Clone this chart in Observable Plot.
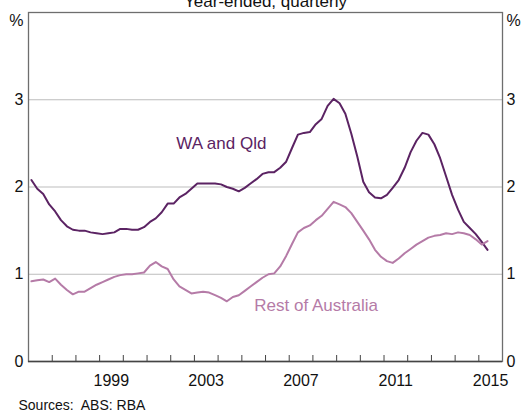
<!DOCTYPE html>
<html>
<head>
<meta charset="utf-8">
<script src="https://cdn.jsdelivr.net/npm/d3@7"></script>
<script src="https://cdn.jsdelivr.net/npm/@observablehq/plot@0.6"></script>
<style>
  html, body { margin: 0; padding: 0; background: #fff; }
  #chart { width: 521px; height: 413px; overflow: hidden; }
  svg { font-family: "Liberation Sans", Arial, sans-serif; }
</style>
</head>
<body>
<div id="chart"></div>
<script>
// Quarterly, year-ended, 1996 Q1 to 2015 Q2
const startYear = 1996;
const waQld = [
  2.08, 1.98, 1.92, 1.80, 1.72, 1.62, 1.55, 1.51, 1.50, 1.50,
  1.48, 1.47, 1.46, 1.47, 1.48, 1.52, 1.52, 1.51, 1.51, 1.54,
  1.60, 1.64, 1.71, 1.81, 1.81, 1.88, 1.92, 1.98, 2.04, 2.04,
  2.04, 2.04, 2.03, 2.00, 1.98, 1.95, 1.99, 2.04, 2.09, 2.15,
  2.17, 2.17, 2.22, 2.29, 2.45, 2.60, 2.62, 2.63, 2.72, 2.78,
  2.93, 3.01, 2.96, 2.84, 2.61, 2.35, 2.06, 1.94, 1.88, 1.87,
  1.91, 1.99, 2.08, 2.22, 2.40, 2.53, 2.62, 2.60, 2.49, 2.33,
  2.12, 1.91, 1.74, 1.60, 1.53, 1.46, 1.37, 1.28
];
const restOfAustralia = [
  0.92, 0.93, 0.94, 0.91, 0.95, 0.88, 0.82, 0.77, 0.80, 0.80,
  0.84, 0.88, 0.91, 0.94, 0.97, 0.99, 1.00, 1.00, 1.01, 1.02,
  1.10, 1.14, 1.09, 1.06, 0.94, 0.86, 0.82, 0.78, 0.79, 0.80,
  0.79, 0.76, 0.73, 0.69, 0.74, 0.76, 0.81, 0.86, 0.91, 0.96,
  1.00, 1.01, 1.09, 1.21, 1.35, 1.48, 1.53, 1.56, 1.62, 1.67,
  1.75, 1.83, 1.80, 1.77, 1.70, 1.60, 1.50, 1.40, 1.28, 1.20,
  1.15, 1.13, 1.18, 1.24, 1.29, 1.34, 1.38, 1.42, 1.44, 1.45,
  1.47, 1.46, 1.48, 1.47, 1.45, 1.40, 1.34, 1.38
];
const yTicks = [0, 1, 2, 3];
const yearTickMarks = d3.range(1997, 2016);
const yearLabels = [1999, 2003, 2007, 2011, 2015];
const seriesNames = ["WA and Qld", "Rest of Australia"];
const colors = ["#5b2363", "#b57ba7"];
const title = "Year-ended, quarterly";
const source = "Sources:  ABS: RBA";

// quarter index -> mid-quarter date
const qDate = i => new Date(Date.UTC(startYear + Math.floor(i / 4), (i % 4) * 3 + 1, 15));
const rows = [
  ...waQld.map((v, i) => ({date: qDate(i), value: v, series: seriesNames[0]})),
  ...restOfAustralia.map((v, i) => ({date: qDate(i), value: v, series: seriesNames[1]}))
];

const W = 521, H = 413;
const mL = 28, mR = 19, mT = 12, mB = 52;
const frameH = H - mT - mB;

const chart = Plot.plot({
  width: W,
  height: H,
  marginLeft: mL,
  marginRight: mR,
  marginTop: mT,
  marginBottom: mB,
  style: {fontFamily: "'Liberation Sans', Arial, sans-serif", fontSize: "16px", overflow: "visible"},
  x: {type: "utc", domain: [new Date(Date.UTC(1996, 0, 1)), new Date(Date.UTC(2016, 0, 1))], axis: null},
  y: {domain: [0, 4], axis: null},
  marks: [
    Plot.ruleY(yTicks.slice(1), {stroke: "#bdbdbd", strokeWidth: 1}),
    Plot.frame({stroke: "#6e6e6e", strokeWidth: 1.3}),
    Plot.ruleY([0], {stroke: "#444", strokeWidth: 1.3}),
    Plot.tickX(yearTickMarks, {x: d => new Date(Date.UTC(d, 0, 1)), insetTop: frameH - 6, stroke: "#444", strokeWidth: 1}),
    Plot.lineY(rows, {x: "date", y: "value", z: "series", stroke: "series", strokeWidth: 2}),
    // y tick labels left and right
    Plot.text(yTicks, {y: d => d, text: d => String(d), frameAnchor: "left", dx: -5, textAnchor: "end", fontSize: 16, fill: "#111"}),
    Plot.text(yTicks, {y: d => d, text: d => String(d), frameAnchor: "right", dx: 4, textAnchor: "start", fontSize: 16, fill: "#111"}),
    Plot.text(["%"], {frameAnchor: "top-left", dx: -5, dy: 8, textAnchor: "end", lineAnchor: "middle", fontSize: 16, fill: "#111"}),
    Plot.text(["%"], {frameAnchor: "top-right", dx: 4, dy: 8, textAnchor: "start", lineAnchor: "middle", fontSize: 16, fill: "#111"}),
    // year labels centred in each year
    Plot.text(yearLabels, {x: d => new Date(Date.UTC(d, 6, 1)), text: d => String(d), frameAnchor: "bottom", dy: 19, lineAnchor: "middle", fontSize: 16, fill: "#111"}),
    // series labels
    Plot.text([seriesNames[0]], {x: [new Date(Date.UTC(2004, 1, 20))], y: [2.43], text: d => d, textAnchor: "middle", fill: colors[0], fontSize: 17, dy: -6}),
    Plot.text([seriesNames[1]], {x: [new Date(Date.UTC(2008, 1, 20))], y: [0.575], text: d => d, textAnchor: "middle", fill: colors[1], fontSize: 17, dy: -6}),
    // title (partly cut off at top, as in the original)
    Plot.text([title], {frameAnchor: "top", dy: -6, lineAnchor: "bottom", fontSize: 17, fill: "#111"}),
    // source
    Plot.text([source], {frameAnchor: "bottom-left", dx: -10, dy: 48, textAnchor: "start", lineAnchor: "bottom", fontSize: 14, fill: "#111"})
  ],
  color: {domain: seriesNames, range: colors}
});
document.getElementById("chart").appendChild(chart);
</script>
</body>
</html>
